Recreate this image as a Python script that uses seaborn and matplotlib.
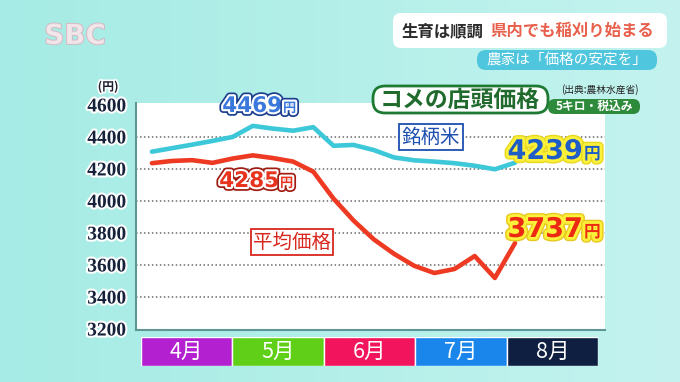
import matplotlib
matplotlib.use("Agg")
import matplotlib.pyplot as plt
import matplotlib.patheffects as pe
from matplotlib.colors import LinearSegmentedColormap
from matplotlib.patches import FancyBboxPatch
import numpy as np
import seaborn as sns

# weekly store prices (5kg, tax incl.), early April -> mid August
weeks = list(range(19))
brand_price = [4308, 4330, 4352, 4375, 4400, 4469, 4452, 4439, 4461, 4345,
               4350, 4318, 4272, 4254, 4246, 4236, 4220, 4198, 4239]
avg_price = [4236, 4250, 4255, 4238, 4265, 4285, 4268, 4246, 4183, 4015,
             3877, 3760, 3670, 3595, 3550, 3575, 3656, 3519, 3737]

months = ["4月", "5月", "6月", "7月", "8月"]
month_colors = ["#b320cf", "#5fd017", "#f2145c", "#1a86ec", "#0e1f42"]
y_ticks = [3200, 3400, 3600, 3800, 4000, 4200, 4400, 4600]
grid_levels = [3400, 3600, 3800, 4000, 4200, 4400]

BLUE_LINE = "#3cc8d8"
RED_LINE = "#ee3a22"

sns.set_style("white")
plt.rcParams["font.family"] = ["Noto Sans CJK JP", "DejaVu Sans"]

fig = plt.figure(figsize=(6.8, 3.82), dpi=100)

# background (pixel coordinates)
bg = fig.add_axes([0, 0, 1, 1], zorder=0)
bg.set_xlim(0, 680)
bg.set_ylim(382, 0)
bg.axis("off")
grad = np.linspace(0, 1, 256).reshape(1, -1)
cmap = LinearSegmentedColormap.from_list("bg", ["#a6ebe5", "#b4efe9", "#c4f3ef"])
bg.imshow(grad, extent=(0, 680, 382, 0), aspect="auto", cmap=cmap)

# main chart
ax = fig.add_axes([136 / 680, 1 - 330 / 382, 469 / 680, 227 / 382], zorder=1)
ax.set_facecolor("white")
for v in grid_levels:
    ax.axhline(v, color="#6a6a6a", lw=1.1, ls=(0, (1, 1.6)), zorder=1)

sns.lineplot(x=weeks, y=brand_price, ax=ax, color=BLUE_LINE, linewidth=3.3, zorder=3)
sns.lineplot(x=weeks, y=avg_price, ax=ax, color=RED_LINE, linewidth=3.3, zorder=3)

ax.set_xlim(-0.79, 22.46)
ax.set_ylim(3194, 4612)
ax.set_xticks([])
ax.set_yticks(y_ticks)
ax.set_yticklabels([str(t) for t in y_ticks], fontsize=14, fontweight="bold",
                   family="Liberation Serif", color="#16213a")
for lbl in ax.get_yticklabels():
    lbl.set_path_effects([pe.Stroke(linewidth=3, foreground="white"), pe.Normal()])
ax.tick_params(axis="y", length=0, pad=7)
ax.set_xlabel("")
ax.set_ylabel("")
for side in ["top", "right"]:
    ax.spines[side].set_visible(False)
for side in ["left", "bottom"]:
    ax.spines[side].set_color("#5f9797")
    ax.spines[side].set_linewidth(1.5)

# month strip
mx = fig.add_axes([141 / 680, 1 - 366 / 382, 457 / 680, 29 / 382], zorder=2)
sns.barplot(x=months, y=[1] * len(months), hue=months, palette=month_colors,
            width=1.0, saturation=1, ax=mx, legend=False)
mx.set_xlim(-0.5, 4.5)
mx.set_ylim(0, 1)
mx.axis("off")
for i, m in enumerate(months):
    mx.text(i, 0.48, m, color="white", fontsize=15.5, ha="center", va="center")

# overlay texts (pixel coordinates)
ov = fig.add_axes([0, 0, 1, 1], zorder=3)
ov.set_xlim(0, 680)
ov.set_ylim(382, 0)
ov.axis("off")
ov.patch.set_alpha(0)


def outlined(x, y, s, size, color, strokes, ha="right", family="DejaVu Sans"):
    t = ov.text(x, y, s, fontsize=size, color=color, ha=ha, va="baseline",
                fontweight="bold", family=family)
    t.set_path_effects([pe.Stroke(linewidth=w, foreground=c) for w, c in strokes]
                       + [pe.Normal()])


def price_label(x, y, value, size, color, strokes, yen_size):
    outlined(x, y, str(value), size, color, strokes)
    outlined(x + 1, y, "円", yen_size, color, strokes, ha="left",
             family=["Noto Sans CJK JP", "DejaVu Sans"])


price_label(282, 112, brand_price[5], 15.5, "#3a78dc",
            [(5.5, "#1c3f8e"), (3, "white")], 9.5)
price_label(279, 187, avg_price[5], 15.5, "#e8341e",
            [(5.5, "#a01c10"), (3, "white")], 9.5)
price_label(583, 159, brand_price[-1], 19.5, "#1e5cc8",
            [(6, "#e8d820"), (4, "#fbf03a")], 12)
price_label(583, 237, avg_price[-1], 19.5, "#ec2a14",
            [(6, "#e8c820"), (4, "#fbf03a")], 12)

ov.text(431, 137, "銘柄米", fontsize=14, color="#1d4fb0", ha="center", va="center",
        bbox=dict(boxstyle="square,pad=0.12", fc="white", ec="#1d4fb0", lw=1.3))
ov.text(292, 242, "平均価格", fontsize=14, color="#d8261c", ha="center", va="center",
        bbox=dict(boxstyle="square,pad=0.12", fc="white", ec="#d8261c", lw=1.3))

t = ov.text(108, 87, "(円)", fontsize=8.5, fontweight="bold", color="#1a1a2e",
            ha="center", va="center")
t.set_path_effects([pe.Stroke(linewidth=2.5, foreground="white"), pe.Normal()])

# title block
ov.add_patch(FancyBboxPatch((373, 86), 175, 27, boxstyle="round,pad=0,rounding_size=12",
                            fc="white", ec="#1e7a32", lw=2))
ov.text(460, 100, "コメの店頭価格", fontsize=16.5, fontweight="bold", color="#1f6a2c",
        ha="center", va="center")
ov.text(600, 90, "(出典:農林水産省)", fontsize=7, color="#222222", ha="center", va="center")
ov.add_patch(FancyBboxPatch((548, 99), 92, 15, boxstyle="round,pad=0,rounding_size=7",
                            fc="#2c8a3a", ec="none"))
ov.text(594, 106.5, "5キロ・税込み", fontsize=8.5, fontweight="bold", color="white",
        ha="center", va="center")

# header
bg.add_patch(FancyBboxPatch((393, 13), 274, 35, boxstyle="round,pad=0,rounding_size=8",
                            fc="white", ec="none"))
bg.text(402, 31, "生育は順調", fontsize=11.8, fontweight="bold", color="#2b2b2b",
        ha="left", va="center")
bg.text(490, 31, "県内でも稲刈り始まる", fontsize=11.8, fontweight="bold", color="#e8604c",
        ha="left", va="center")
bg.add_patch(FancyBboxPatch((477, 50), 180, 20, boxstyle="round,pad=0,rounding_size=9",
                            fc="#4fc6dd", ec="none"))
bg.text(567, 60, "農家は「価格の安定を」", fontsize=10.5, color="white",
        ha="center", va="center")

logo = bg.text(75, 36, "SBC", fontsize=20, fontweight="bold", color="#f3e6ea",
               alpha=0.85, ha="center", va="center", family="DejaVu Sans")
logo.set_path_effects([pe.Stroke(linewidth=1.2, foreground="#d8aebb"), pe.Normal()])

fig.savefig("out.png", dpi=100)
plt.close(fig)
